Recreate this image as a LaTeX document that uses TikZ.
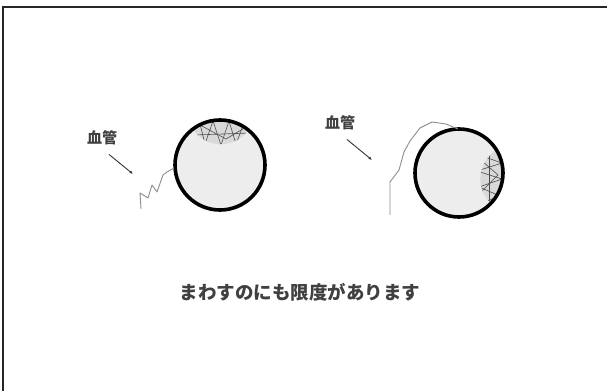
\documentclass[tikz,border=0pt]{standalone}
\usepackage{fontspec}
\newfontfamily\jpfont{Noto Sans CJK JP}
\usetikzlibrary{arrows.meta}

\begin{document}
\begin{tikzpicture}[x=1pt,y=1pt,
  rim/.style={line width=3.6pt},
  vessel/.style={black!45, line width=0.9pt, line join=round},
  mesh/.style={black!70, line width=0.6pt, line join=round},
  pointer/.style={black!80, line width=0.9pt, -{Latex[length=3.5pt,width=3pt]}},
  lbl/.style={font=\jpfont\bfseries\fontsize{15}{17}\selectfont, text=black!75}]
 \useasboundingbox (0,0) rectangle (607,391);

 % frame
 \draw[black!85, line width=1.6pt] (3,0) -- (3,384) -- (607,384);

 % the two balls
 \foreach \cx/\cy/\r in {220/226/45, 459/218/44}{
   \fill[black!7] (\cx,\cy) circle (\r);
 }

 % cap on top of the left ball
 \begin{scope}
  \clip (192.9,261.9) arc[start angle=127, end angle=51, radius=45]
        .. controls (236,242) and (205,242) .. (192.9,261.9) -- cycle;
  \fill[black!15] (180,238) rectangle (262,275);
  \draw[mesh] (190,260) -- (199,271) -- (205,247) -- (213,270) -- (221,246)
              -- (229,270) -- (236,247) -- (244,268) -- (252,250);
  \draw[mesh] (195,256) -- (250,258);
  \draw[mesh] (200,266) -- (226,252) -- (246,264);
 \end{scope}

 % cap on the right side of the right ball
 \begin{scope}
  \clip (496.5,241) arc[start angle=31.5, end angle=-43, radius=44]
        .. controls (476,200) and (476,228) .. (496.5,241) -- cycle;
  \fill[black!15] (470,180) rectangle (506,248);
  \draw[mesh] (502,244) -- (479,236) -- (502,228) -- (477,220) -- (502,212)
              -- (479,204) -- (500,195) -- (482,188);
  \draw[mesh] (489,245) -- (489,186);
  \draw[mesh] (482,230) -- (498,216) -- (482,200);
 \end{scope}

 \foreach \cx/\cy/\r in {220/226/45, 459/218/44}{
   \draw[rim] (\cx,\cy) circle (\r);
 }

 % vessels
 \draw[vessel] (141,182) -- (140,198) -- (148,193) -- (152,206) -- (157,199)
               -- (163,216) -- (167,219) -- (174,223);
 \draw[vessel] (390,176) -- (390,209) -- (399,221) -- (404,239) -- (410,250)
               -- (420,263) -- (432,269) -- (446,267) -- (458,262);

 % labels and pointers
 \node[lbl] (vessA) at (102,253) {血管};
 \node[lbl] (vessB) at (340,268) {血管};
 \coordinate (tipA) at (133,217);
 \coordinate (tipB) at (372,231);
 \draw[pointer, shorten <=9pt] (vessA.south) -- (tipA);
 \draw[pointer, shorten <=9pt] (vessB.south) -- (tipB);

 \node[font=\jpfont\bfseries\fontsize{18.5}{20}\selectfont, text=black!75] (limit) at (300,99) {まわすのにも限度があります};
\end{tikzpicture}
\end{document}
